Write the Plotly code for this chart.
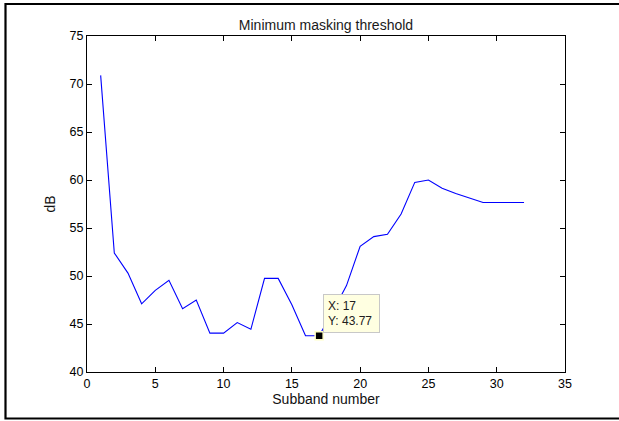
import plotly.graph_objects as go

subband = list(range(1, 33))
threshold_db = [70.9, 52.4, 50.3, 47.1, 48.5, 49.55, 46.6, 47.5, 44.05, 44.05,
                45.15, 44.45, 49.75, 49.75, 47.0, 43.77, 43.77, 46.3, 49.0, 53.1,
                54.1, 54.35, 56.45, 59.75, 60.0, 59.15, 58.6, 58.1, 57.65, 57.65,
                57.65, 57.65]
tip_x, tip_y = 17, 43.77

title = "Minimum masking threshold"
xlabel = "Subband number"
ylabel = "dB"
x_range = [0, 35]
y_range = [40, 75]
x_ticks = [0, 5, 10, 15, 20, 25, 30, 35]
y_ticks = [40, 45, 50, 55, 60, 65, 70, 75]

W, H = 619, 421
L, R, T, B = 87, 54, 36, 49
pw, ph = W - L - R, H - T - B

def px(xp):
    return (xp - L) / pw

def py(yp):
    return (H - B - yp) / ph

fam = "Liberation Sans, Arial, Helvetica, sans-serif"
font = dict(family=fam, size=12.5, color="black")
label_font = dict(family=fam, size=14, color="#111111")

fig = go.Figure()
fig.add_trace(go.Scatter(x=subband, y=threshold_db, mode="lines",
                         line=dict(color="#0000FF", width=1.1), hoverinfo="skip"))
fig.add_trace(go.Scatter(x=[tip_x], y=[tip_y], mode="markers",
                         marker=dict(symbol="square", size=8, color="black",
                                     line=dict(color="#FFFFC8", width=1.5)),
                         hoverinfo="skip"))

fig.add_annotation(x=tip_x, y=tip_y, xref="x", yref="y", showarrow=False,
                   xanchor="left", yanchor="bottom", xshift=4, yshift=3,
                   width=47, height=29,
                   text="X: 17<br>Y: 43.77", align="left", valign="middle",
                   bgcolor="#FFFFE1", bordercolor="#C8C8C8", borderwidth=1, borderpad=4,
                   font=dict(family=fam, size=12, color="#202020"))

# outer figure frame
fig.add_shape(type="rect", xref="paper", yref="paper",
              x0=px(5.5), x1=px(630), y0=py(418.5), y1=py(4),
              line=dict(color="black", width=2.2), fillcolor="rgba(0,0,0,0)", layer="below")

axis_common = dict(showline=True, linecolor="black", linewidth=1, mirror="ticks",
                   ticks="inside", ticklen=5, tickcolor="black", tickwidth=1,
                   showgrid=False, zeroline=False, tickfont=font)

fig.update_layout(
    width=W, height=H,
    margin=dict(l=L, r=R, t=T, b=B),
    paper_bgcolor="white", plot_bgcolor="white",
    showlegend=False,
    font=font,
    title=dict(text=title, x=((L + W - R) / 2) / W, xanchor="center",
               y=1 - 25 / H, yanchor="middle", font=dict(size=14, color="#1a1a1a", family=fam)),
    xaxis=dict(range=x_range, tickvals=x_ticks,
               title=dict(text=xlabel, standoff=2, font=label_font), **axis_common),
    yaxis=dict(range=y_range, tickvals=y_ticks,
               title=dict(text=ylabel, standoff=10, font=label_font), **axis_common),
)

fig.write_html("out.html")
